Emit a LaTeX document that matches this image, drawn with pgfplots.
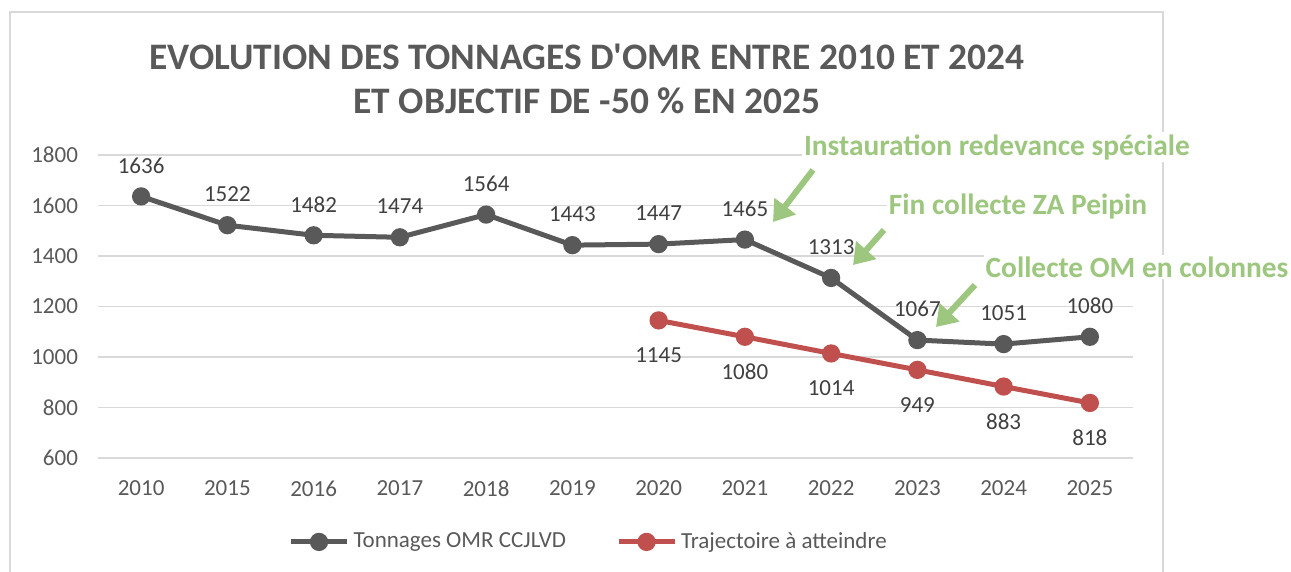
\documentclass[border=0pt]{standalone}
\usepackage{fontspec}
\setmainfont{Carlito}
\usepackage{pgfplots}
\pgfplotsset{compat=1.18}
\usetikzlibrary{arrows.meta}
\definecolor{grisomr}{HTML}{595959}
\definecolor{rougetraj}{HTML}{C0504D}
\definecolor{textgris}{HTML}{595959}
\definecolor{labelgris}{HTML}{404040}
\definecolor{vertnote}{HTML}{9DC77F}
\definecolor{grille}{HTML}{D9D9D9}

\begin{document}
\begin{tikzpicture}
\begin{scope}[x=0.5pt,y=0.5pt]
  \useasboundingbox (0,0) rectangle (1291,572);
  % cadre du graphique
  \draw[grille, line width=1pt] (10,-5) -- (10,560) -- (1163,560) -- (1163,-5);
  \node[font=\fontsize{18.7}{22}\selectfont\bfseries, text=textgris, align=center]
    at (587,493) {EVOLUTION DES TONNAGES D\textquotesingle OMR ENTRE 2010 ET 2024\\ET OBJECTIF DE -50 \% EN 2025};
\end{scope}

\begin{axis}[
  at={(49pt,57pt)}, anchor=south west,
  scale only axis, width=517.5pt, height=151.5pt,
  xmin=-0.5, xmax=11.5, ymin=600, ymax=1800,
  xtick={0,...,11},
  xticklabels={2010,2015,2016,2017,2018,2019,2020,2021,2022,2023,2024,2025},
  ytick={600,800,...,1800},
  axis line style={draw=none},
  major tick length=0pt,
  ymajorgrids,
  grid style={grille, line width=0.75pt},
  tick label style={font=\fontsize{11.5}{13}\selectfont, text=textgris},
  xticklabel style={yshift=-8pt},
  yticklabel style={xshift=-6.5pt},
  /pgf/number format/assume math mode=true,
  /pgf/number format/1000 sep={},
  clip=false,
  legend style={at={(0.475,-0.277)}, anchor=center, draw=none, fill=none,
    font=\fontsize{11.5}{13}\selectfont, text=textgris,
    legend columns=2,
    /tikz/every even column/.append style={column sep=23pt},
    /tikz/every odd column/.append style={inner sep=1pt}},
  legend image code/.code={%
    \draw[#1, mark repeat=2, mark phase=2] plot coordinates {(0pt,0pt)(14pt,0pt)(28pt,0pt)};},
]
  \addplot[grisomr, line width=2.5pt, mark=*, mark size=3.3pt,
    nodes near coords,
    every node near coord/.style={anchor=center, yshift=15.5pt,
      font=\fontsize{11.5}{13}\selectfont, text=labelgris}]
  coordinates {(0,1636)(1,1522)(2,1482)(3,1474)(4,1564)(5,1443)
               (6,1447)(7,1465)(8,1313)(9,1067)(10,1051)(11,1080)};
  \addlegendentry{Tonnages OMR CCJLVD}

  \addplot[rougetraj, line width=2.5pt, mark=*, mark size=3.3pt,
    nodes near coords,
    every node near coord/.style={anchor=center, yshift=-17.5pt,
      font=\fontsize{11.5}{13}\selectfont, text=labelgris}]
  coordinates {(6,1145)(7,1080)(8,1014)(9,949)(10,883)(11,818)};
  \addlegendentry{Trajectoire à atteindre}
\end{axis}

\begin{scope}[x=0.5pt,y=0.5pt]
  % annotations
  \tikzset{note/.style={font=\fontsize{14.7}{16}\selectfont\bfseries, text=vertnote,
      fill=white, inner sep=1pt}}
  \node[note] at (997,425) {Instauration redevance spéciale};
  \node[note] at (1018,365) {Fin collecte ZA Peipin};
  \node[note] at (1137,305) {Collecte OM en colonnes};
  \draw[vertnote, line width=3pt, -{Triangle[length=10pt,width=13pt]}] (813,402) -- (773,350);
  \draw[vertnote, line width=3pt, -{Triangle[length=10pt,width=13pt]}] (884,342) -- (853,307);
  \draw[vertnote, line width=3pt, -{Triangle[length=10pt,width=13pt]}] (975,287) -- (936,245);
\end{scope}
\end{tikzpicture}
\end{document}
